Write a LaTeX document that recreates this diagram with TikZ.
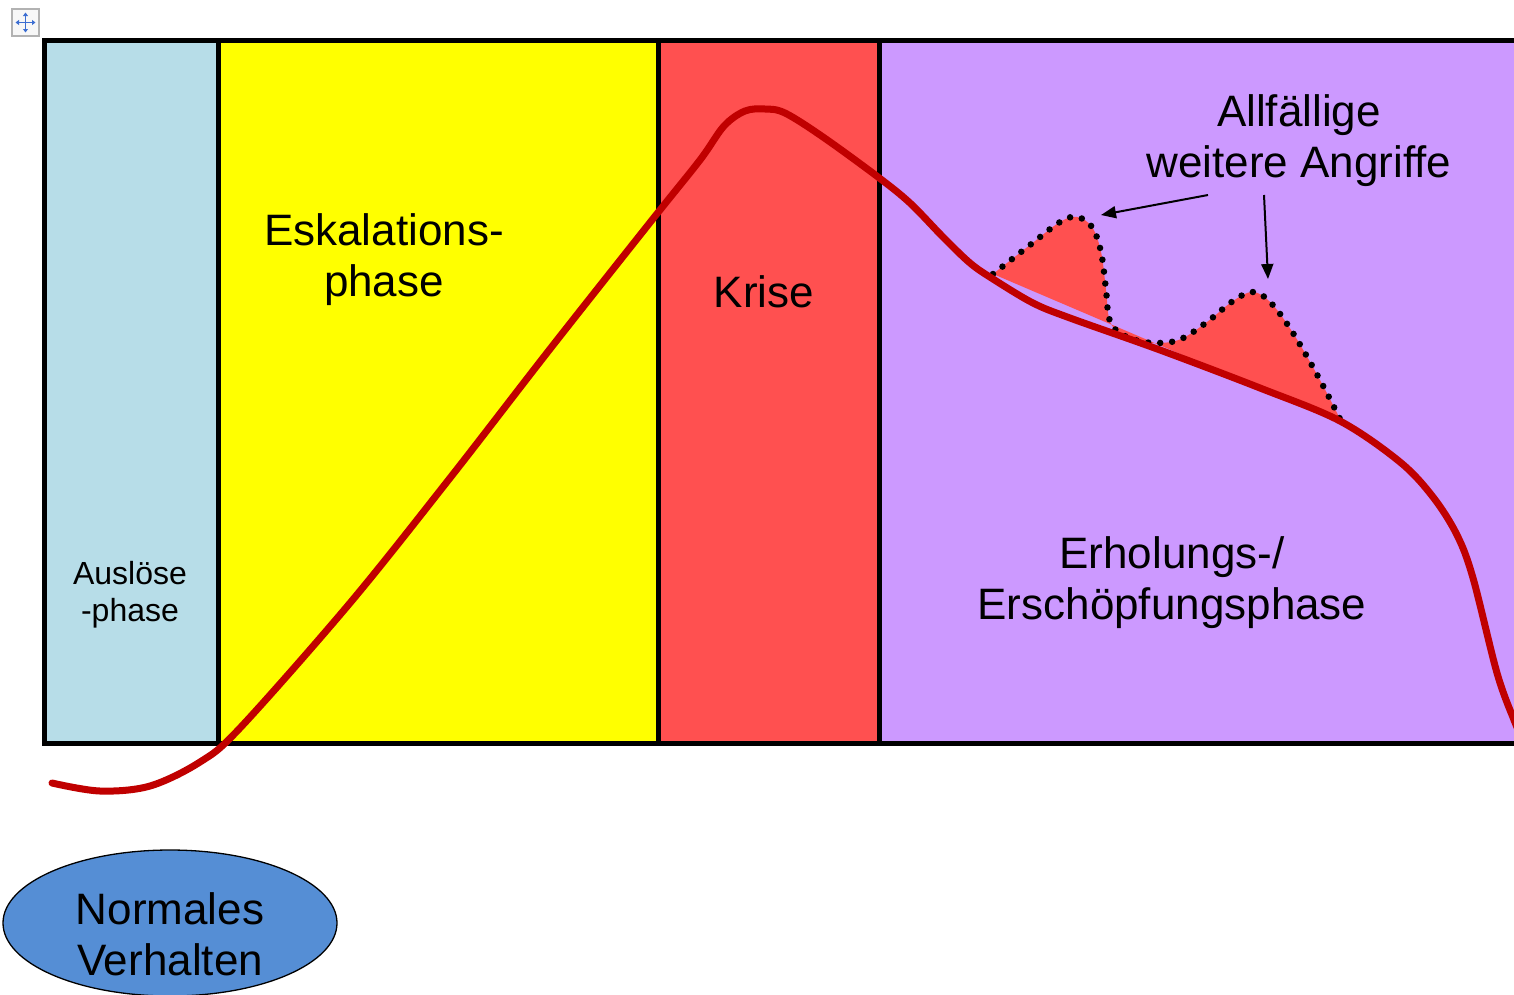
\documentclass[tikz,border=0pt]{standalone}
\usepackage{fontspec}
\setmainfont{Liberation Sans}
\usetikzlibrary{shapes.geometric,arrows.meta}
\definecolor{cBlue}{RGB}{183,221,232}
\definecolor{cYellow}{RGB}{255,255,0}
\definecolor{cRed}{RGB}{255,80,80}
\definecolor{cPurple}{RGB}{204,153,255}
\definecolor{cCurve}{RGB}{192,0,0}
\definecolor{cEll}{RGB}{85,142,213}
\definecolor{cIcon}{RGB}{60,110,210}
\tikzset{
  bigtxt/.style={font=\fontsize{44}{51}\selectfont, align=center, inner sep=0pt},
  smalltxt/.style={font=\fontsize{32}{37}\selectfont, align=center, inner sep=0pt},
  border/.style={line width=5pt, draw=black},
  curve/.style={line width=7pt, draw=cCurve, line cap=round},
  dotline/.style={line width=6.5pt, line cap=round, dash pattern=on 0pt off 12pt},
  arr/.style={line width=2pt, -{Triangle[length=15pt,width=12pt]}},
}
\begin{document}
\begin{tikzpicture}[x=1pt,y=-1pt]
\useasboundingbox (0,0) rectangle (1514,994);
\clip (0,0) rectangle (1514,994);

% phase areas
\fill[cBlue]   (44,40) rectangle (218,743);
\fill[cYellow] (218,40) rectangle (658,743);
\fill[cRed]    (658,40) rectangle (879,743);
\fill[cPurple] (879,40) rectangle (1540,743);
\draw[border] (44,40) rectangle (1540,743);
\draw[border] (218,40) -- (218,743);
\draw[border] (658,40) -- (658,743);
\draw[border] (879,40) -- (879,743);

% move handle icon
\node[draw=gray!60, line width=1.2pt, fill=gray!6, minimum size=27pt, inner sep=0pt] (icon) at (25.5,22.5) {};
\draw[cIcon, line width=1.6pt, {Triangle[length=3.5pt,width=5pt]}-{Triangle[length=3.5pt,width=5pt]}]
  ([xshift=-10pt]icon.center) -- ([xshift=10pt]icon.center);
\draw[cIcon, line width=1.6pt, {Triangle[length=3.5pt,width=5pt]}-{Triangle[length=3.5pt,width=5pt]}]
  ([yshift=-10pt]icon.center) -- ([yshift=10pt]icon.center);

% further attacks (filled humps)
\fill[cRed] plot[smooth, tension=0.6] coordinates {(993,274) (1030,245) (1060,222) (1077,217) (1092,227) (1101,252) (1106,290) (1109,318) (1117,331) (1135,340) (1158,343) (1181,339) (1207,322) (1233,301) (1253,292) (1271,303) (1293,333) (1320,380) (1342,423)} -- cycle;
\draw[dotline] plot[smooth, tension=0.6] coordinates {(993,274) (1030,245) (1060,222) (1077,217) (1092,227) (1101,252) (1106,290) (1109,318) (1117,331) (1135,340) (1158,343) (1181,339) (1207,322) (1233,301) (1253,292) (1271,303) (1293,333) (1320,380) (1342,423)};

% main curve
\draw[curve] plot[smooth, tension=0.55] coordinates {(52,783) (100,791) (150,786) (200,762) (240,728) (350,603) (450,478) (550,349) (652,220) (700,160) (724,126) (745,111) (765,109) (785,113) (823,137) (878,177) (910,203) (943,237) (970,263) (993,279) (1033,303) (1070,318) (1160,350) (1260,388) (1340,421) (1400,462) (1433,497) (1457,535) (1473,578) (1497,673) (1514,720) (1525,745)};

% texts
\node[smalltxt] (ausl) at (130,595) {Auslöse\\-phase};
\node[bigtxt] (eskal) at (384,260) {Eskalations-\\phase};
\node[bigtxt] (krise) at (764,292) {Krise};
\node[bigtxt] (erhol) at (1172,583) {Erholungs-/\\Erschöpfungsphase};
\node[bigtxt] (allf) at (1299,141) {Allfällige\\weitere Angriffe};

% arrows
\coordinate (a1s) at (1208,195);
\coordinate (a1e) at (1101,215);
\coordinate (a2s) at (1264,195);
\coordinate (a2e) at (1268,279);
\draw[arr] (a1s) -- (a1e);
\draw[arr] (a2s) -- (a2e);

% normal behaviour ellipse
\node[ellipse, draw=black, line width=1.3pt, fill=cEll, minimum width=334pt, minimum height=146pt, inner sep=0pt] (ell) at (170,923) {};
\node[bigtxt] (normal) at ([yshift=-11pt]ell.center) {Normales\\Verhalten};
\end{tikzpicture}
\end{document}
